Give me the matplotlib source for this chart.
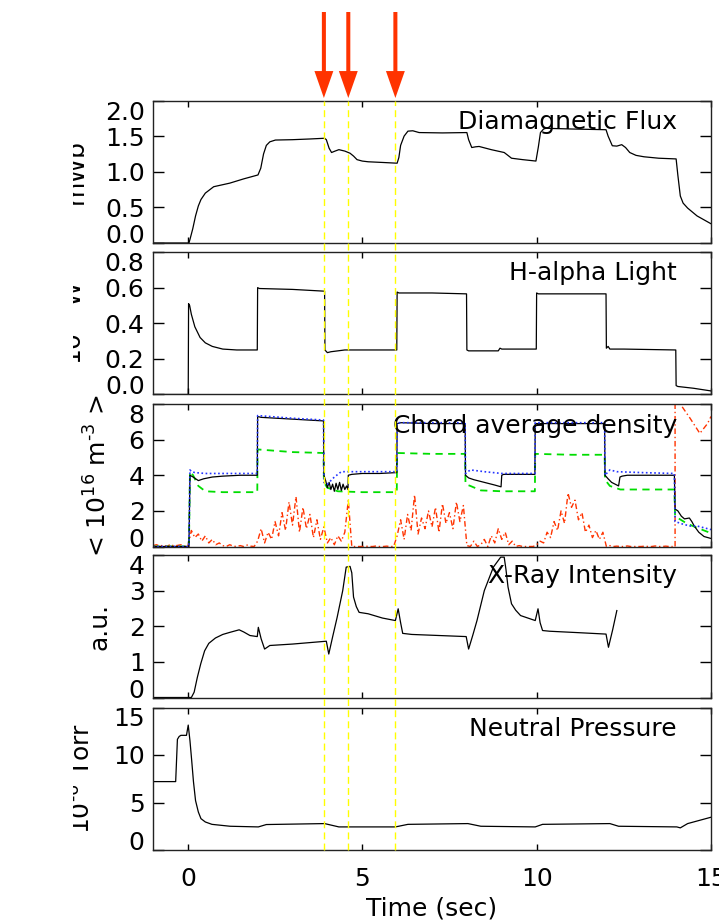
import numpy as np
import matplotlib.pyplot as plt
from matplotlib.patches import FancyArrowPatch
from matplotlib.lines import Line2D
from matplotlib.transforms import Bbox, TransformedBbox, blended_transform_factory

plt.rcParams['font.family'] = 'DejaVu Sans'
plt.rcParams['mathtext.fontset'] = 'dejavusans'

# ---- data ----
event_times = [3.9, 4.6, 5.95]

flux_t = [-1.0, 0.03, 0.06, 0.14, 0.22, 0.3, 0.375, 0.5, 0.74, 1.2, 1.6, 2.01, 2.09, 2.17,
          2.25, 2.35, 2.51, 3.0, 3.5, 3.92, 3.97, 4.05, 4.12, 4.22, 4.33, 4.5, 4.65, 4.75,
          4.85, 5.0, 5.17, 5.6, 6.0, 6.05, 6.1, 6.2, 6.31, 6.45, 6.63, 7.3, 8.0, 8.05, 8.14,
          8.25, 8.35, 8.7, 9.07, 9.15, 9.28, 9.6, 9.98, 10.05, 10.11, 10.2, 10.27, 11.0,
          11.99, 12.05, 12.17, 12.3, 12.44, 12.55, 12.67, 12.85, 13.08, 13.5, 14.0, 14.05,
          14.12, 14.2, 14.33, 14.6, 15.0]
flux_v = [0.0, 0.0, 0.05, 0.2, 0.38, 0.52, 0.61, 0.7, 0.79, 0.84, 0.9, 0.955, 1.05, 1.25,
          1.37, 1.42, 1.445, 1.45, 1.46, 1.47, 1.45, 1.33, 1.27, 1.29, 1.31, 1.29, 1.26, 1.22,
          1.17, 1.15, 1.14, 1.13, 1.12, 1.2, 1.37, 1.5, 1.57, 1.575, 1.55, 1.545, 1.55, 1.45,
          1.34, 1.35, 1.355, 1.31, 1.27, 1.24, 1.19, 1.17, 1.15, 1.35, 1.55, 1.6, 1.61, 1.6,
          1.59, 1.5, 1.365, 1.36, 1.38, 1.34, 1.27, 1.23, 1.21, 1.19, 1.18, 0.95, 0.66, 0.56,
          0.49, 0.38, 0.27]

ha_t = [-1.0, 0.01, 0.02, 0.05, 0.1, 0.2, 0.35, 0.5, 0.7, 1.0, 1.4, 1.99, 2.0, 2.05, 3.0,
        3.92, 3.93, 4.0, 4.1, 4.3, 4.5, 5.0, 5.99, 6.0, 6.05, 7.0, 7.99, 8.0, 8.05, 8.9, 8.95,
        9.0, 9.99, 10.0, 10.05, 11.0, 11.99, 12.0, 12.05, 12.1, 12.5, 13.99, 14.0, 14.05,
        14.5, 15.0]
ha_v = [0.0, 0.0, 0.51, 0.50, 0.45, 0.38, 0.32, 0.29, 0.27, 0.255, 0.25, 0.25, 0.60, 0.595,
        0.59, 0.58, 0.25, 0.235, 0.24, 0.245, 0.25, 0.25, 0.25, 0.575, 0.57, 0.57, 0.565,
        0.25, 0.245, 0.245, 0.26, 0.255, 0.255, 0.57, 0.565, 0.565, 0.565, 0.26, 0.27, 0.255,
        0.255, 0.25, 0.05, 0.045, 0.035, 0.02]

# chord average density: black (solid), blue (dotted), green (dashed), red (dash-dot)
ne_t = [-1.0, 0.03, 0.06, 0.15, 0.3, 0.45, 0.7, 1.0, 1.5, 1.99, 2.0, 2.1, 3.0, 3.89, 3.9,
        3.95, 4.0, 4.05, 4.1, 4.15, 4.2, 4.25, 4.3, 4.35, 4.4, 4.45, 4.5, 4.55, 4.59, 4.6,
        4.7, 5.0, 5.5, 5.99, 6.0, 6.1, 7.0, 7.95, 7.96, 8.05, 8.2, 8.5, 8.8, 8.98, 9.0, 9.05,
        9.5, 9.95, 9.96, 10.05, 11.0, 11.95, 11.96, 12.05, 12.15, 12.25, 12.35, 12.39,
        12.45, 12.6, 13.0, 13.5, 13.95, 13.97, 14.05, 14.15, 14.24, 14.38, 14.45, 14.52,
        14.65, 14.8, 15.0]
ne_v = [0.0, 0.0, 4.0, 3.9, 3.7, 3.8, 3.9, 3.95, 4.0, 4.0, 7.3, 7.25, 7.15, 7.05, 4.0,
        3.7, 3.3, 3.6, 3.2, 3.5, 3.1, 3.55, 3.2, 3.6, 3.15, 3.5, 3.2, 3.4, 3.2, 4.0,
        4.05, 4.1, 4.1, 4.15, 6.9, 6.95, 6.9, 6.9, 4.0, 3.85, 3.75, 3.6, 3.45, 3.35, 4.0, 4.05,
        4.05, 4.05, 6.9, 6.9, 6.9, 6.9, 4.0, 3.8, 3.6, 3.5, 3.4, 3.9,
        3.95, 4.0, 4.0, 4.0, 4.0, 2.1, 2.0, 1.7, 1.55, 1.6, 1.4, 1.15,
        0.8, 0.56, 0.45]

bl_t = [-1.0, 0.03, 0.06, 0.1, 0.2, 0.5, 1.0, 1.99, 2.0, 3.0, 3.89, 3.9, 4.0, 4.2, 4.4,
        5.0, 5.99, 6.0, 7.0, 7.95, 7.96, 8.1, 8.5, 9.0, 9.5, 9.95, 9.96, 11.0, 11.95, 11.96,
        12.1, 12.3, 13.0, 13.95, 13.97, 14.05, 14.2, 14.4, 14.6, 15.0]
bl_v = [0.0, 0.0, 4.3, 4.2, 4.15, 4.1, 4.1, 4.1, 7.35, 7.2, 7.1, 3.6, 3.5, 3.9, 4.2,
        4.2, 4.2, 6.95, 6.95, 6.95, 4.1, 4.3, 4.2, 4.1, 4.1, 4.1, 6.95, 6.95, 6.95, 4.0,
        4.3, 4.2, 4.15, 4.1, 1.4, 1.35, 1.25, 1.15, 1.15, 0.95]

gr_t = [-1.0, 0.03, 0.06, 0.15, 0.3, 0.5, 1.0, 1.99, 2.0, 3.0, 3.89, 3.9, 4.0, 4.3, 5.0,
        5.99, 6.0, 7.0, 7.95, 7.96, 8.1, 8.4, 9.0, 9.95, 9.96, 11.0, 11.95, 11.96, 12.1, 12.4,
        13.0, 13.95, 13.97, 14.05, 14.3, 14.6, 15.0]
gr_v = [0.0, 0.0, 4.2, 4.0, 3.4, 3.1, 3.05, 3.05, 5.45, 5.3, 5.25, 3.6, 3.3, 3.1, 3.05,
        3.05, 5.25, 5.2, 5.2, 3.5, 3.4, 3.15, 3.1, 3.1, 5.2, 5.15, 5.15, 3.75, 3.4, 3.2,
        3.2, 3.2, 1.7, 1.6, 1.3, 1.05, 0.75]

# red trace sampled every 0.1 s from -1.0 s to 13.9 s
red_t0, red_dt = -1.0, 0.1
red_v = [0.05, 0.1, 0.02, 0.08, 0.0, 0.12, 0.03, 0.06, 0.1, 0.02,
         0.0, 0.9, 0.5, 0.7, 0.3, 0.6, 0.2, 0.4, 0.1, 0.2,
         0.05, 0.0, 0.1, 0.02, 0.0, 0.05, 0.0, 0.08, 0.02, 0.0,
         0.3, 1.0, 0.2, 0.8, 0.4, 1.4, 0.6, 1.9, 0.9, 2.5,
         1.2, 2.8, 0.8, 2.2, 1.0, 1.8, 0.5, 1.5, 0.4, 1.1,
         0.2, 0.5, 0.1, 0.6, 0.3, 0.8, 2.6, 0.0, 0.0, 0.0,
         0.0, 0.02, 0.0, 0.0, 0.03, 0.0, 0.0, 0.02, 0.0, 0.0,
         0.6, 1.5, 0.4, 1.8, 0.9, 2.9, 0.7, 1.6, 1.0, 2.0,
         1.1, 2.2, 0.8, 2.4, 1.3, 1.9, 1.0, 2.5, 1.4, 2.3,
         0.05, 0.0, 0.3, 0.0, 0.1, 0.4, 0.0, 0.6, 0.2, 1.0,
         0.4, 0.8, 0.1, 0.3, 0.0, 0.05, 0.0, 0.0, 0.0, 0.0,
         0.1, 0.3, 0.2, 0.8, 0.5, 1.4, 0.9, 2.0, 1.3, 3.0,
         2.2, 2.6, 1.5, 1.9, 0.8, 1.2, 0.5, 0.9, 0.4, 0.8,
         0.0, 0.05, 0.0, 0.02, 0.0, 0.0, 0.03, 0.0, 0.0, 0.0,
         0.0, 0.02, 0.0, 0.0, 0.03, 0.0, 0.0, 0.02, 0.0, 0.0]
red_tail_t = [13.97, 13.97, 14.1, 14.4, 14.68, 14.9, 15.0]
red_tail_v = [0.0, 9.5, 8.05, 7.2, 6.35, 6.9, 7.3]

xr_t = [-1.0, 0.1, 0.18, 0.27, 0.37, 0.48, 0.6, 0.79, 1.0, 1.21, 1.47, 1.6, 1.78, 1.99,
        2.02, 2.1, 2.2, 2.35, 3.0, 3.97, 4.04, 4.15, 4.28, 4.44, 4.54, 4.65, 4.7, 4.75, 4.83,
        4.91, 5.17, 5.58, 5.95, 6.03, 6.1, 6.16, 6.42, 7.2, 7.98, 8.05, 8.17, 8.29, 8.5, 8.76,
        8.97, 9.07, 9.12, 9.18, 9.28, 9.4, 9.54, 9.96, 10.04, 10.1, 10.17, 10.375, 11.2,
        11.99, 12.06, 12.18, 12.3]
xr_v = [0.0, 0.0, 0.15, 0.56, 0.95, 1.31, 1.52, 1.67, 1.77, 1.83, 1.9, 1.84, 1.74, 1.71,
        1.97, 1.65, 1.36, 1.46, 1.5, 1.58, 1.22, 1.7, 2.25, 3.0, 3.66, 3.68, 3.5, 2.82, 2.55,
        2.39, 2.35, 2.23, 2.16, 2.49, 2.1, 1.8, 1.77, 1.74, 1.71, 1.36, 1.75, 2.16, 3.0, 3.66,
        3.94, 3.94, 3.6, 3.1, 2.63, 2.45, 2.3, 2.16, 2.49, 2.1, 1.88, 1.86, 1.82,
        1.78, 1.41, 1.9, 2.44]

np_t = [-1.0, -0.35, -0.3, -0.25, -0.2, -0.04, 0.01, 0.06, 0.11, 0.16, 0.22, 0.3, 0.375,
        0.5, 0.69, 1.21, 2.02, 2.25, 3.92, 4.33, 5.95, 6.31, 8.03, 8.4, 9.96, 10.17, 12.1,
        12.35, 14.02, 14.12, 14.33, 15.0]
np_v = [7.2, 7.2, 11.65, 11.95, 12.07, 12.07, 13.15, 11.5, 9.4, 7.2, 5.2, 4.0, 3.3,
        2.95, 2.7, 2.5, 2.43, 2.68, 2.78, 2.43, 2.43, 2.7, 2.78, 2.5, 2.43, 2.7, 2.78,
        2.5, 2.43, 2.33, 2.78, 3.45]

titles = ["Diamagnetic Flux", "H-alpha Light", "Chord average density",
          "X-Ray Intensity", "Neutral Pressure"]
ylabels = ["mWb", "10$^{\\text{-6}}$ W", "< 10$^{16}$ m$^{\\text{-3}}$ >", "a.u.",
           "10$^{\\text{-6}}$ Torr"]
ylims = [(0, 2.0), (0, 0.8), (0, 8), (0, 4), (0, 15)]
yticks = [[0, 0.5, 1.0, 1.5, 2.0], [0, 0.2, 0.4, 0.6, 0.8], [0, 2, 4, 6, 8],
          [0, 1, 2, 3, 4], [0, 5, 10, 15]]
ytick_fmt = ["%.1f", "%.1f", "%d", "%d", "%d"]
xticks = [0, 5, 10, 15]

# ---- layout (pixels of a 719x921 canvas) ----
W, H = 719, 921
left_px, right_px = 153, 711
bottoms_px = [243, 394.5, 546.5, 697.5, 850]
panel_h = 142.5
label_x = [-0.1165, -0.1165, -0.0735, -0.0735, -0.102]
FS = 18

fig = plt.figure(figsize=(W / 100, H / 100), dpi=100)
axes = []
for b in bottoms_px:
    axes.append(fig.add_axes([left_px / W, 1 - b / H, (right_px - left_px) / W, panel_h / H]))

lw = 0.9
axes[0].plot(flux_t, flux_v, color='black', lw=lw)
axes[1].plot(ha_t, ha_v, color='black', lw=lw)
red_t = red_t0 + red_dt * np.arange(len(red_v))
axes[2].plot(red_t, red_v, color='#FF3300', lw=1.0, dashes=(4, 2, 1, 2))
axes[2].plot(red_tail_t, red_tail_v, color='#FF3300', lw=1.0, dashes=(4, 2, 1, 2))
axes[2].plot(gr_t, gr_v, color='#00DD00', lw=1.3, dashes=(4, 3))
axes[2].plot(ne_t, ne_v, color='black', lw=lw)
axes[2].plot(bl_t, bl_v, color='#2233FF', lw=1.2, dashes=(1, 1.5))
axes[3].plot(xr_t, xr_v, color='black', lw=lw)
axes[4].plot(np_t, np_v, color='black', lw=lw)

clip = TransformedBbox(Bbox([[73 / W, 0], [1, 1]]), fig.transFigure)

for i, ax in enumerate(axes):
    ax.set_xlim(-1, 15)
    ax.set_ylim(*ylims[i])
    ax.set_xticks(xticks)
    ax.set_yticks(yticks[i])
    ax.set_yticklabels([ytick_fmt[i] % v for v in yticks[i]])
    ax.tick_params(axis='y', direction='in', length=7.7, width=1, right=True,
                   pad=6, labelsize=FS)
    ax.tick_params(axis='x', direction='in', length=4.3, width=1, top=True,
                   pad=12, labelsize=FS, labelbottom=(i == len(axes) - 1))
    ytk = ax.yaxis.get_major_ticks()
    ytk[0].label1.set_va('baseline')
    ytk[-1].label1.set_va('top')
    for s in ax.spines.values():
        s.set_color('#222222')
        s.set_linewidth(1)
    ax.text(0.939, 0.80, titles[i], transform=ax.transAxes, ha='right',
            va='baseline', fontsize=FS)
    ax.set_ylabel(ylabels[i], fontsize=FS)
    ax.yaxis.set_label_coords(label_x[i], 0.5)
    ax.yaxis.label.set_clip_box(clip)
    ax.yaxis.label.set_clip_on(True)

axes[-1].set_xlabel("Time (sec)", fontsize=FS)
axes[-1].xaxis.set_label_coords(0.5, -0.323)

# event markers: yellow dashed lines across all panels and red arrows on top
trans = blended_transform_factory(axes[0].transData, fig.transFigure)
y_top = 1 - (bottoms_px[0] - panel_h) / H
y_bot = 1 - bottoms_px[-1] / H
for t in event_times:
    fig.add_artist(Line2D([t, t], [y_bot, y_top], transform=trans, color='#FFFF00',
                          lw=1.0, dashes=(5, 3), zorder=5))
    fig.add_artist(FancyArrowPatch((t, 1 - 12 / H), (t, 1 - 98 / H), transform=trans,
                                   arrowstyle='simple,head_length=0.97,head_width=0.68,tail_width=0.145',
                                   mutation_scale=20, color='#FF3300', shrinkA=0, shrinkB=0,
                                   lw=0, zorder=6))

fig.savefig("out.png", dpi=100)
